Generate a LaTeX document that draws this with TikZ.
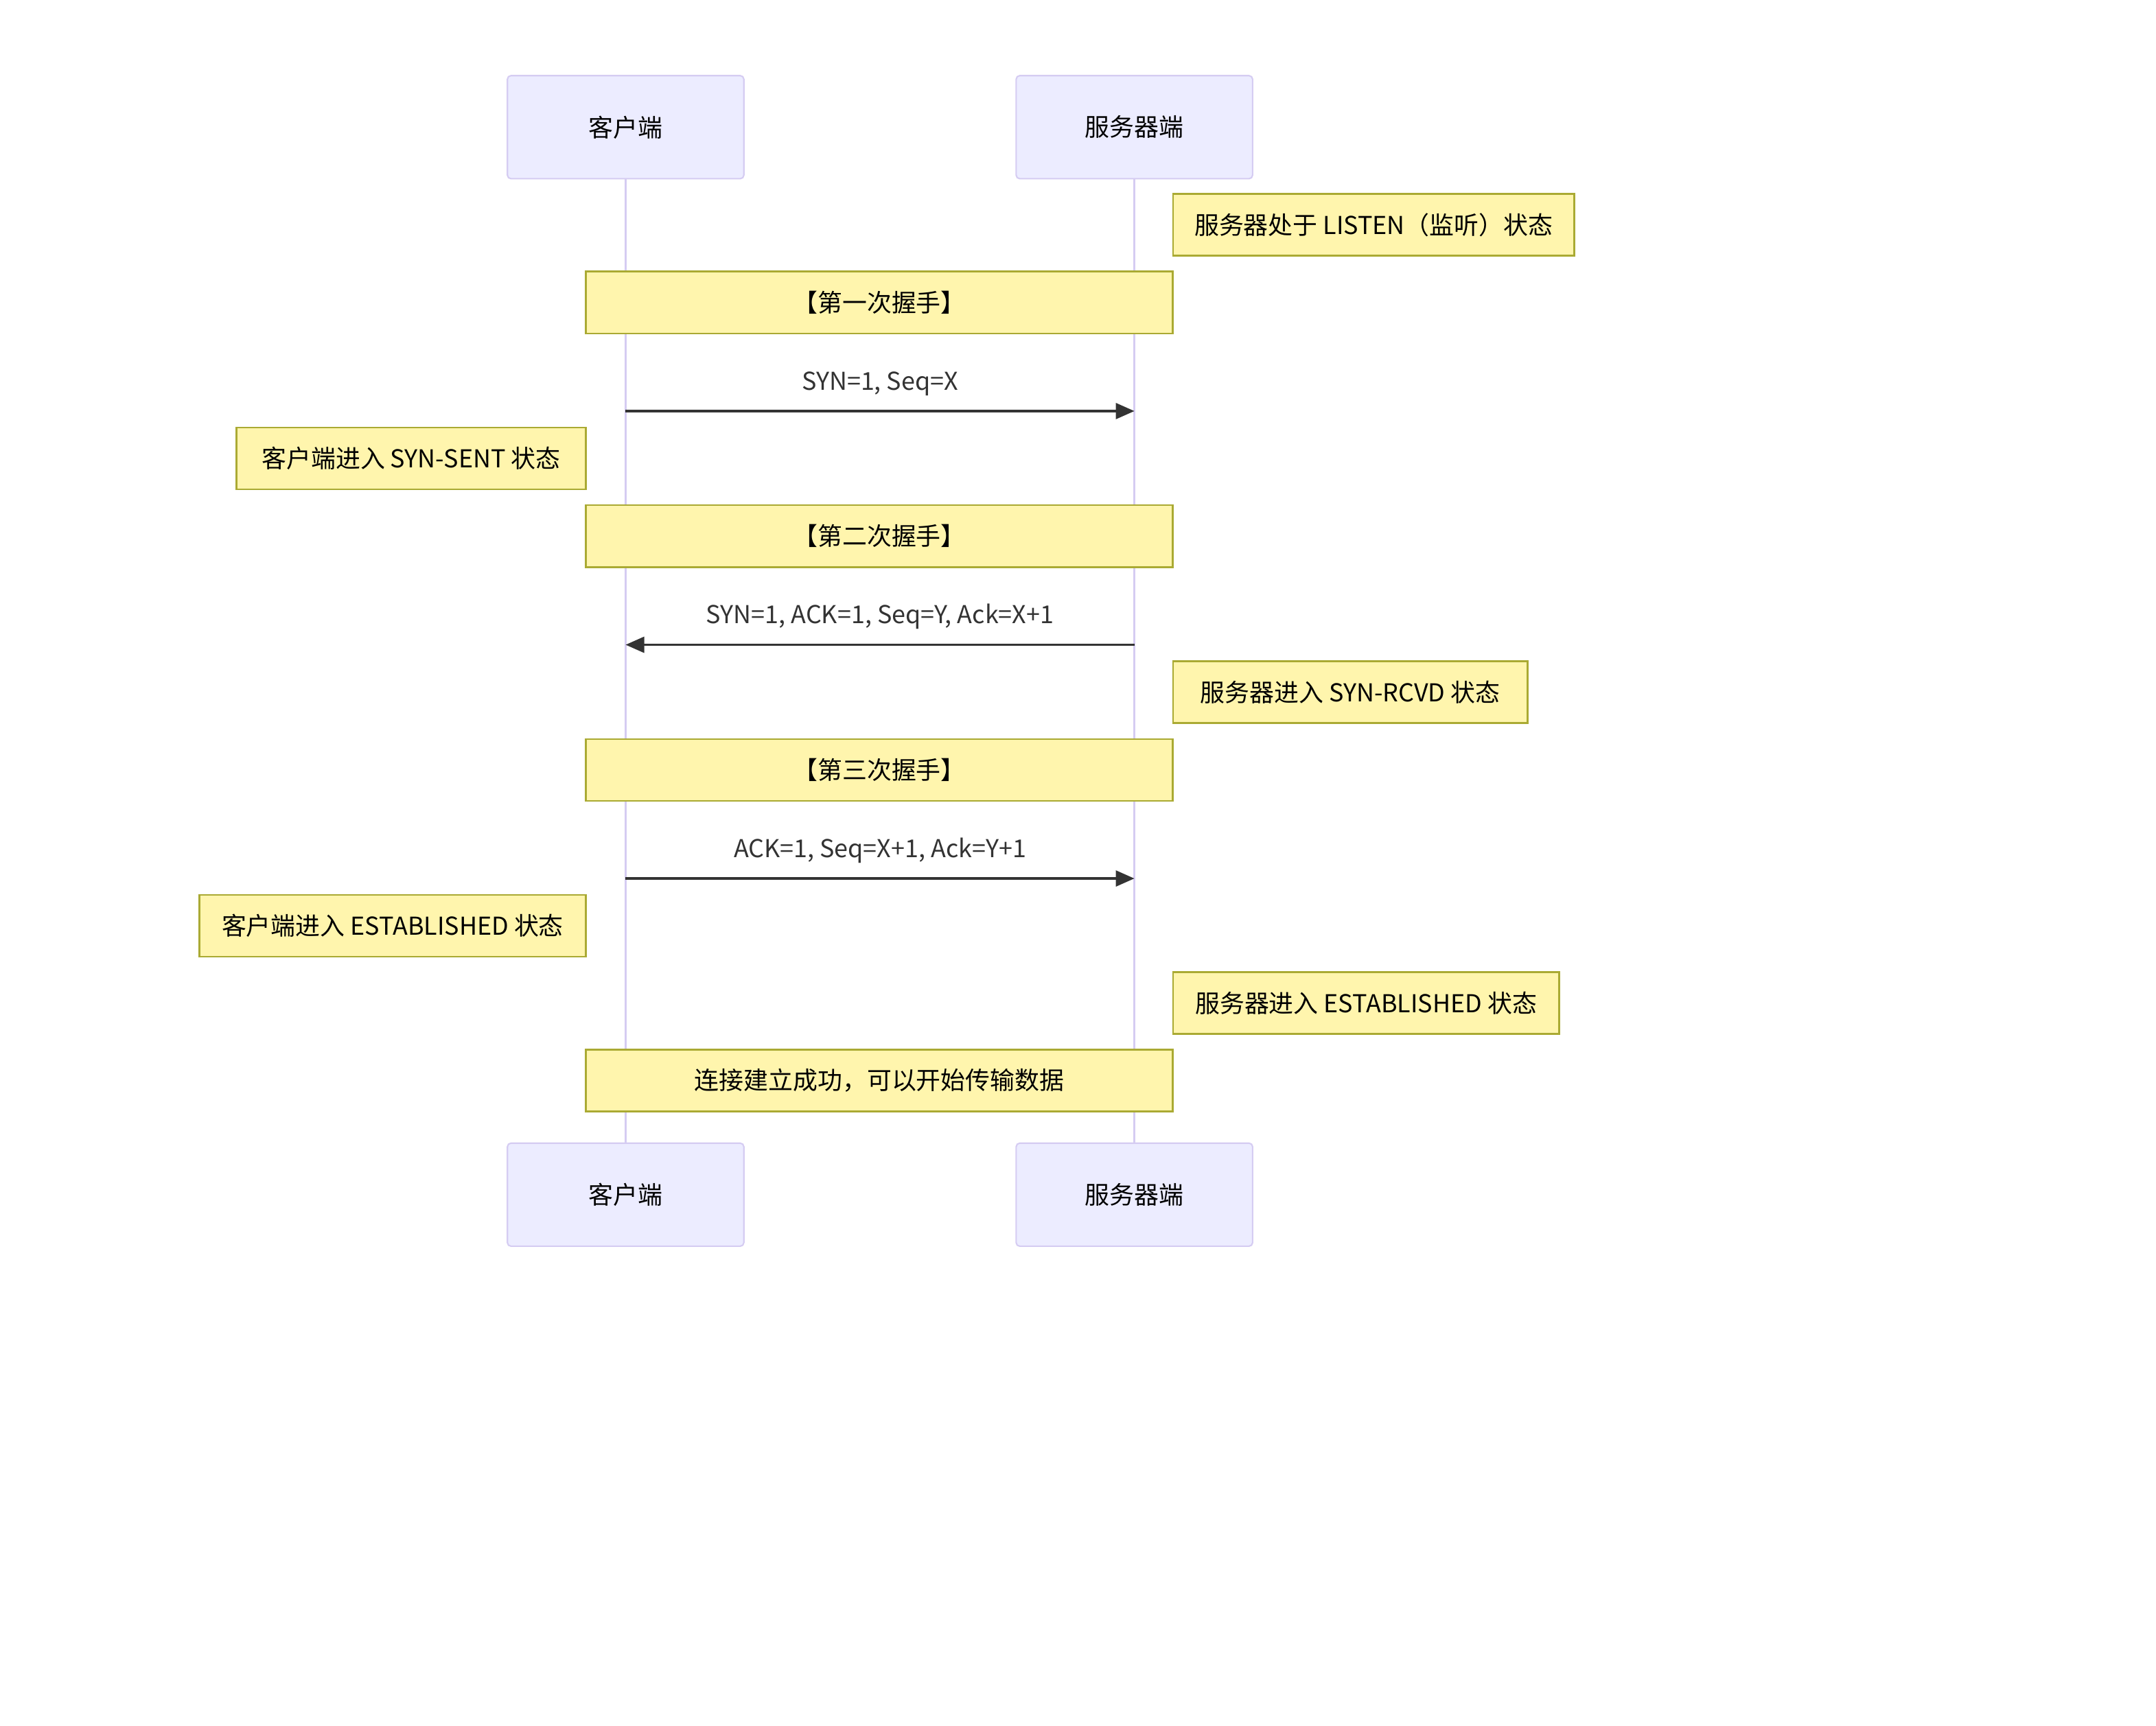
\documentclass[tikz,border=0pt]{standalone}
\usepackage{fontspec}
\setmainfont{Noto Sans CJK SC}
\usepackage{xcolor}
\usepackage{tikz}
\usetikzlibrary{arrows.meta}
\definecolor{actorbg}{HTML}{ECECFF}
\definecolor{actorline}{HTML}{D5CCF2}
\definecolor{notebg}{HTML}{FFF5AD}
\definecolor{noteline}{HTML}{AAAA33}
\definecolor{msgcol}{HTML}{333333}
\tikzset{
    actor/.style={rectangle, draw=actorline, fill=actorbg, line width=0.6pt, rounded corners=1.5pt, minimum width=3.44cm, minimum height=1.5cm, font=\fontsize{10.2pt}{12pt}\selectfont},
    note/.style={rectangle, draw=noteline, fill=notebg, line width=0.7pt, minimum height=0.9cm, inner sep=0pt, font=\fontsize{10.2pt}{12pt}\selectfont},
    wide/.style={note, minimum width=8.54cm},
    lifeline/.style={draw=actorline, line width=0.8pt},
    msg/.style={-{Triangle[length=0.27cm, width=0.23cm]}, line width=0.9pt, color=msgcol},
    msglabel/.style={above=0.21cm, font=\fontsize{10.2pt}{12pt}\selectfont, text=msgcol, inner sep=0pt}
}

\begin{document}
\begin{tikzpicture}[x=0.02cm, y=-0.02cm]
    \useasboundingbox (0,0) rectangle (1568,1255);

    % participants
    \node [actor] (client) at (455,92.5) {客户端};
    \node [actor] (server) at (825,92.5) {服务器端};
    \node [actor] (clientB) at (455,869) {客户端};
    \node [actor] (serverB) at (825,869) {服务器端};

    \draw [lifeline] (client) -- (clientB);
    \draw [lifeline] (server) -- (serverB);

    % notes
    \node [note, minimum width=5.84cm] (listen) at (999,163.5) {服务器处于 LISTEN（监听）状态};
    \node [wide] (hs1) at (639.5,220) {【第一次握手】};
    \node [note, minimum width=5.08cm] (synsent) at (299,333.5) {客户端进入 SYN-SENT 状态};
    \node [wide] (hs2) at (639.5,390) {【第二次握手】};
    \node [note, minimum width=5.16cm] (synrcvd) at (982,503.5) {服务器进入 SYN-RCVD 状态};
    \node [wide] (hs3) at (639.5,560) {【第三次握手】};
    \node [note, minimum width=5.62cm] (cliest) at (285.5,673.5) {客户端进入 ESTABLISHED 状态};
    \node [note, minimum width=5.62cm] (srvest) at (993.5,729.5) {服务器进入 ESTABLISHED 状态};
    \node [wide] (done) at (639.5,786) {连接建立成功，可以开始传输数据};

    % messages
    \coordinate (c1) at (455,299);
    \coordinate (s1) at (825,299);
    \coordinate (c2) at (455,469);
    \coordinate (s2) at (825,469);
    \coordinate (c3) at (455,639);
    \coordinate (s3) at (825,639);

    \draw [msg] (c1) -- node [msglabel] {SYN=1, Seq=X} (s1);
    \draw [msg] (s2) -- node [msglabel] {SYN=1, ACK=1, Seq=Y, Ack=X+1} (c2);
    \draw [msg] (c3) -- node [msglabel] {ACK=1, Seq=X+1, Ack=Y+1} (s3);
\end{tikzpicture}
\end{document}
